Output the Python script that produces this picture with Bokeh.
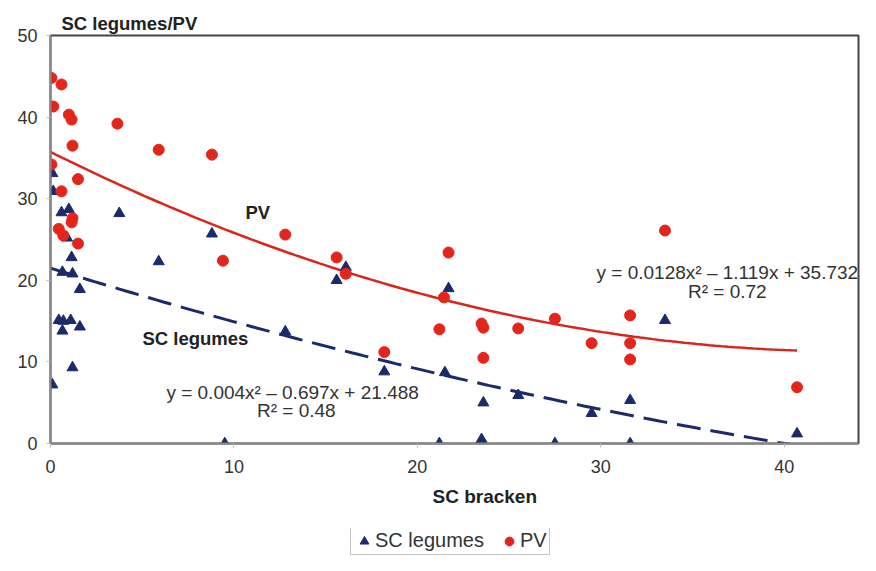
from bokeh.plotting import figure
from bokeh.layouts import column
from bokeh.models import Range1d, Label, Legend, LegendItem, FixedTicker, Title
from bokeh.embed import file_html
from bokeh.resources import INLINE
import numpy as np

# SC bracken (x) and PV (y)
pv_x = [0.05, 0.6, 0.15, 1.0, 1.15, 1.2, 3.65, 5.9, 8.8, 0.05, 1.5, 0.6, 1.2, 1.15,
        0.45, 0.7, 1.5, 12.8, 9.4, 15.6, 16.1, 21.7, 21.45, 21.2, 23.5, 23.6, 23.6,
        25.5, 27.5, 18.2, 33.5, 31.6, 29.5, 31.6, 31.6, 40.7]
pv_y = [44.8, 44.0, 41.3, 40.3, 39.7, 36.5, 39.2, 36.0, 35.4, 34.2, 32.4, 30.9, 27.6, 27.1,
        26.3, 25.5, 24.5, 25.6, 22.4, 22.8, 20.8, 23.4, 17.9, 14.0, 14.7, 14.2, 10.5,
        14.1, 15.3, 11.2, 26.1, 15.7, 12.3, 12.3, 10.3, 6.9]

# SC bracken (x) and SC legumes (y)
leg_x = [0.1, 0.15, 0.6, 1.0, 0.9, 3.75, 8.8, 1.15, 5.9, 0.65, 1.2, 1.6, 0.45, 0.7,
         1.1, 0.65, 1.6, 1.2, 0.1, 9.5, 12.8, 15.6, 16.1, 21.7, 18.2, 21.5, 23.6,
         25.5, 21.2, 23.5, 23.6, 27.5, 33.5, 31.6, 29.5, 31.6, 40.7]
leg_y = [33.1, 30.9, 28.3, 28.7, 25.2, 28.2, 25.7, 22.8, 22.3, 21.0, 20.8, 18.9, 15.1, 15.0,
         15.1, 13.8, 14.3, 9.3, 7.2, 0.0, 13.7, 20.0, 21.6, 19.0, 8.8, 8.7, 5.0,
         5.9, 0.0, 0.5, 0.0, 0.0, 15.1, 5.3, 3.7, 0.0, 1.2]

# Trend line coefficients (a, b, c) as displayed: y = a x^2 + b x + c
pv_coef = [0.0128, -1.119, 35.732]
leg_coef = [0.004, -0.697, 21.488]
trend_x_range = [0.0, 40.7]

x_ticks = [0, 10, 20, 30, 40]
y_ticks = [0, 10, 20, 30, 40, 50]
series_names = ["SC legumes", "PV"]

RED = "#e2261c"
RED_LINE = "#d9261c"
NAVY = "#1b2a6b"
FONT = "Liberation Sans"

p = figure(width=860, height=528, output_backend="svg", toolbar_location=None,
           x_range=Range1d(0, 44.05), y_range=Range1d(0, 50),
           min_border_left=50, min_border_right=2, min_border_top=35, min_border_bottom=85,
           title="SC legumes/PV")
p.background_fill_color = "white"
p.border_fill_color = "white"
p.grid.visible = False
p.outline_line_color = "#444444"
p.outline_line_width = 2

p.title.text_font = FONT
p.title.text_font_size = "18.5px"
p.title.text_font_style = "bold"
p.title.text_color = "#222222"
p.title.align = "left"
p.title.offset = 11
p.title.standoff = 3

for ax in (p.xaxis[0], p.yaxis[0]):
    ax.axis_line_color = "#888888"
    ax.axis_line_width = 2
    ax.major_tick_line_color = "#bbbbbb"
    ax.major_tick_out = 4
    ax.major_tick_in = 0
    ax.minor_tick_line_color = None
    ax.major_label_text_font = FONT
    ax.major_label_text_font_size = "18px"
    ax.major_label_text_color = "#333333"
p.xaxis.ticker = FixedTicker(ticks=x_ticks)
p.yaxis.ticker = FixedTicker(ticks=y_ticks)
p.xaxis.major_label_standoff = 12
p.yaxis.major_label_standoff = 9

xtitle = Title(text="SC bracken", align="left", offset=382, standoff=16,
               text_font=FONT, text_font_size="19px", text_font_style="bold",
               text_color="#222222")
p.add_layout(xtitle, "below")

tx = np.linspace(trend_x_range[0], trend_x_range[1], 120)
pv_line = np.polyval(pv_coef, tx)
leg_line = np.polyval(leg_coef, tx)
p.line(tx, leg_line, line_color=NAVY, line_width=3, line_dash="24 10")
p.line(tx, pv_line, line_color=RED_LINE, line_width=2.5)

p.scatter(leg_x, leg_y, marker="triangle", size=11, fill_color=NAVY, line_color=NAVY)
p.scatter(pv_x, pv_y, marker="circle", size=11, fill_color=RED, line_color=RED)

def lab(x, y, t, size="15px", bold=False, align="center", color="#222222"):
    p.add_layout(Label(x=x, y=y, text=t, text_font=FONT, text_font_size=size,
                       text_font_style="bold" if bold else "normal",
                       text_align=align, text_baseline="middle", text_color=color))

lab(11.3, 28.3, "PV", size="18.5px", bold=True)
lab(7.9, 12.9, "SC legumes", size="18.5px", bold=True)
lab(13.2, 6.2, "y = 0.004x² – 0.697x + 21.488", size="19px", color="#333333")
lab(13.4, 4.0, "R² = 0.48", size="19px", color="#333333")
lab(36.9, 21.0, "y = 0.0128x² – 1.119x + 35.732", size="19px", color="#333333")
lab(36.9, 18.6, "R² = 0.72", size="19px", color="#333333")

# legend strip below the chart
q = figure(width=860, height=27, output_backend="svg", toolbar_location=None,
           x_range=Range1d(0, 1), y_range=Range1d(0, 1), min_border=0)
q.axis.visible = False
q.grid.visible = False
q.outline_line_color = None
q.background_fill_color = "white"
q.border_fill_color = "white"
d_leg = q.scatter([-5], [-5], marker="triangle", size=12, fill_color=NAVY, line_color=NAVY)
d_pv = q.scatter([-5], [-5], marker="circle", size=12, fill_color=RED, line_color=RED)

legend = Legend(items=[LegendItem(label=series_names[0], renderers=[d_leg]),
                       LegendItem(label=series_names[1], renderers=[d_pv])],
                orientation="horizontal", location=(300, 0))
legend.label_text_font = FONT
legend.label_text_font_size = "20px"
legend.label_text_color = "#333333"
legend.label_height = 20
legend.glyph_height = 22
legend.glyph_width = 22
legend.label_standoff = 0
legend.spacing = 14
legend.padding = 2
legend.margin = 0
legend.border_line_color = "#888888"
legend.border_line_width = 1
legend.background_fill_alpha = 1
q.add_layout(legend, "center")

layout = column(p, q, spacing=0)
open("out.html", "w").write(file_html(layout, INLINE))
